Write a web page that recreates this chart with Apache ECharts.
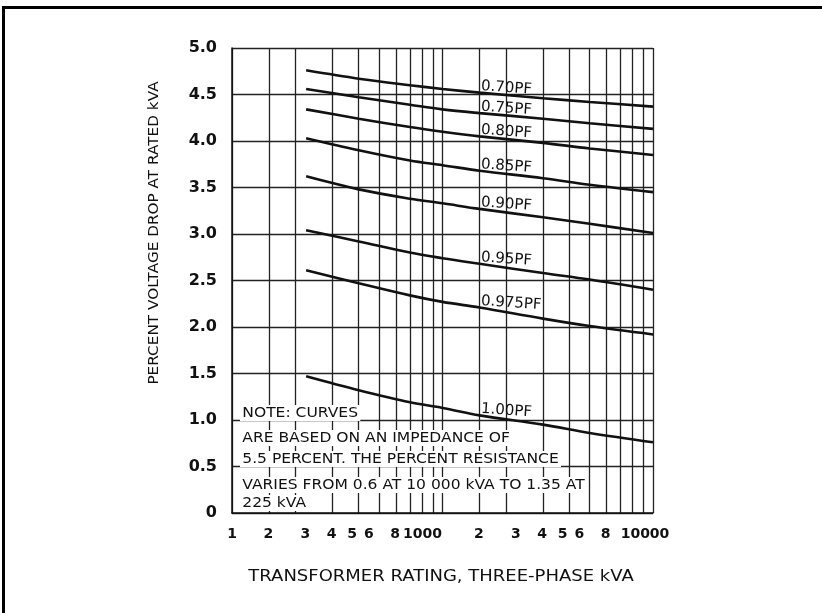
<!DOCTYPE html>
<html><head><meta charset="utf-8">
<script src="https://cdn.jsdelivr.net/npm/echarts@6/dist/echarts.min.js"></script>
<style>html,body{margin:0;padding:0;background:#fff}#c{width:822px;height:613px}</style>
</head><body><div id="c"></div>
<script>
// ---- data ----
const kva = [225, 400, 700, 1000, 1500, 3000, 5000, 10000];
const pf070 = [4.76, 4.67, 4.60, 4.56, 4.52, 4.46, 4.42, 4.37];
const pf075 = [4.56, 4.47, 4.39, 4.34, 4.30, 4.24, 4.19, 4.13];
const pf080 = [4.34, 4.24, 4.15, 4.10, 4.05, 3.98, 3.92, 3.85];
const pf085 = [4.03, 3.90, 3.79, 3.74, 3.68, 3.60, 3.53, 3.45];
const pf090 = [3.62, 3.48, 3.38, 3.33, 3.27, 3.18, 3.11, 3.01];
const pf095 = [3.04, 2.92, 2.80, 2.74, 2.68, 2.58, 2.51, 2.40];
const pf0975 = [2.61, 2.47, 2.34, 2.27, 2.21, 2.09, 2.01, 1.92];
const pf100 = [1.47, 1.32, 1.19, 1.13, 1.05, 0.95, 0.86, 0.76];
const curves = [pf070, pf075, pf080, pf085, pf090, pf095, pf0975, pf100];
const curveNames = ['0.70PF', '0.75PF', '0.80PF', '0.85PF', '0.90PF', '0.95PF', '0.975PF', '1.00PF'];
const labelAtKva = 1500;

const xGridKva = [100,150,200,300,400,500,600,700,800,900,1000,1500,2000,3000,4000,5000,6000,7000,8000,9000,10000];
const xLabelKva = [100,200,300,400,500,600,800,1000,2000,3000,4000,5000,6000,8000,10000];
const xLabelText = ['1','2','3','4','5','6','8','1000','2','3','4','5','6','8','10000'];
const yMin = 0, yMax = 5, yStep = 0.5;

const xTitle = 'TRANSFORMER RATING, THREE-PHASE kVA';
const yTitle = 'PERCENT VOLTAGE DROP AT RATED kVA';
const noteLines = [
  'NOTE: CURVES',
  'ARE BASED ON AN IMPEDANCE OF',
  '5.5 PERCENT. THE PERCENT RESISTANCE',
  'VARIES FROM 0.6 AT 10 000 kVA TO 1.35 AT',
  '225 kVA'
];

// ---- chart ----
const FONT = 'DejaVu Sans';
const ink = '#111';
const gridColor = '#222';
const noteY = [413, 438, 459, 485, 503];

const labelIdx = kva.indexOf(labelAtKva);
const series = curves.map((vals, i) => ({
  type: 'line',
  name: curveNames[i],
  xAxisIndex: 0,
  yAxisIndex: 0,
  data: kva.map((k, j) => [k, vals[j]]),
  smooth: 0.35,
  symbol: 'none',
  lineStyle: { color: ink, width: 2.6 },
  animation: false,
  silent: true,
  markPoint: {
    symbol: 'circle', symbolSize: 1,
    itemStyle: { color: 'rgba(0,0,0,0)' },
    silent: true, animation: false,
    label: {
      show: true, position: 'inside', align: 'left', verticalAlign: 'bottom',
      offset: [1, 1], rotate: -4,
      color: ink, fontFamily: FONT, fontSize: 15,
      formatter: curveNames[i]
    },
    data: [{ coord: [labelAtKva, vals[labelIdx]] }]
  }
}));

const lbl = { color: ink, fontFamily: FONT, fontSize: 14, fontWeight: 'bold' };
const chart = echarts.init(document.getElementById('c'), null, { renderer: 'canvas' });
chart.setOption({
  backgroundColor: '#fff',
  animation: false,
  grid: { left: 232, right: 169, top: 48, bottom: 100, containLabel: false },
  xAxis: [
    { type: 'log', logBase: 10, min: 100, max: 10000, position: 'top', show: false,
      splitLine: { show: false } },
    { type: 'value', min: 2, max: 4, position: 'bottom',
      axisLine: { show: true, lineStyle: { color: ink, width: 1.5 } },
      axisTick: { show: false, customValues: xGridKva.map(v => Math.log10(v)) },
      axisLabel: {
        customValues: xLabelKva.map(v => Math.log10(v)),
        showMinLabel: true, showMaxLabel: true, hideOverlap: false,
        margin: 14, ...lbl,
        formatter: (v) => {
          const k = Math.round(Math.pow(10, v));
          const i = xLabelKva.indexOf(k);
          if (i < 0) return '';
          const cls = k === 100 ? 'o' : (k === 1000 ? 'k' : (k === 10000 ? 't' : 'm'));
          return '{' + cls + '|' + xLabelText[i] + '}';
        },
        rich: {
          o: { ...lbl },
          m: { ...lbl, padding: [0, 54, 0, 0] },
          k: { ...lbl, padding: [0, 40, 0, 0] },
          t: { ...lbl, padding: [0, 16, 0, 0] }
        }
      },
      splitLine: { show: true, lineStyle: { color: gridColor, width: 1.3 } }
    }
  ],
  yAxis: {
    type: 'value', min: yMin, max: yMax, interval: yStep,
    axisLine: { show: true, lineStyle: { color: ink, width: 1.5 } },
    axisTick: { show: false },
    axisLabel: { margin: 15, color: ink, fontFamily: FONT, fontSize: 16, fontWeight: 'bold',
      formatter: v => v === 0 ? '0' : v.toFixed(1) },
    splitLine: { show: true, lineStyle: { color: gridColor, width: 1.3 } }
  },
  series: series,
  graphic: [
    { type: 'line', shape: { x1: 3.5, y1: 6, x2: 3.5, y2: 613 }, style: { stroke: '#000', lineWidth: 3 }, silent: true },
    { type: 'line', shape: { x1: 2, y1: 7.5, x2: 822, y2: 7.5 }, style: { stroke: '#000', lineWidth: 3 }, silent: true },
    { type: 'text', x: 154, y: 233, rotation: Math.PI / 2, scaleX: 1.09, silent: true,
      style: { text: yTitle, fill: ink, font: '14px "DejaVu Sans"', align: 'center', verticalAlign: 'middle' } },
    { type: 'text', x: 441, y: 577, scaleX: 1.2, silent: true,
      style: { text: xTitle, fill: ink, font: '15px "DejaVu Sans"', align: 'center', verticalAlign: 'middle' } }
  ].concat(noteLines.map((t, i) => ({
    type: 'text', x: 240, y: noteY[i], scaleX: 1.15, silent: true, z: 10,
    style: { text: t, fill: ink, font: '13.5px "DejaVu Sans"', align: 'left', verticalAlign: 'middle',
      backgroundColor: '#fff', padding: [1, 2, 1, 2] }
  })))
});
</script></body></html>
